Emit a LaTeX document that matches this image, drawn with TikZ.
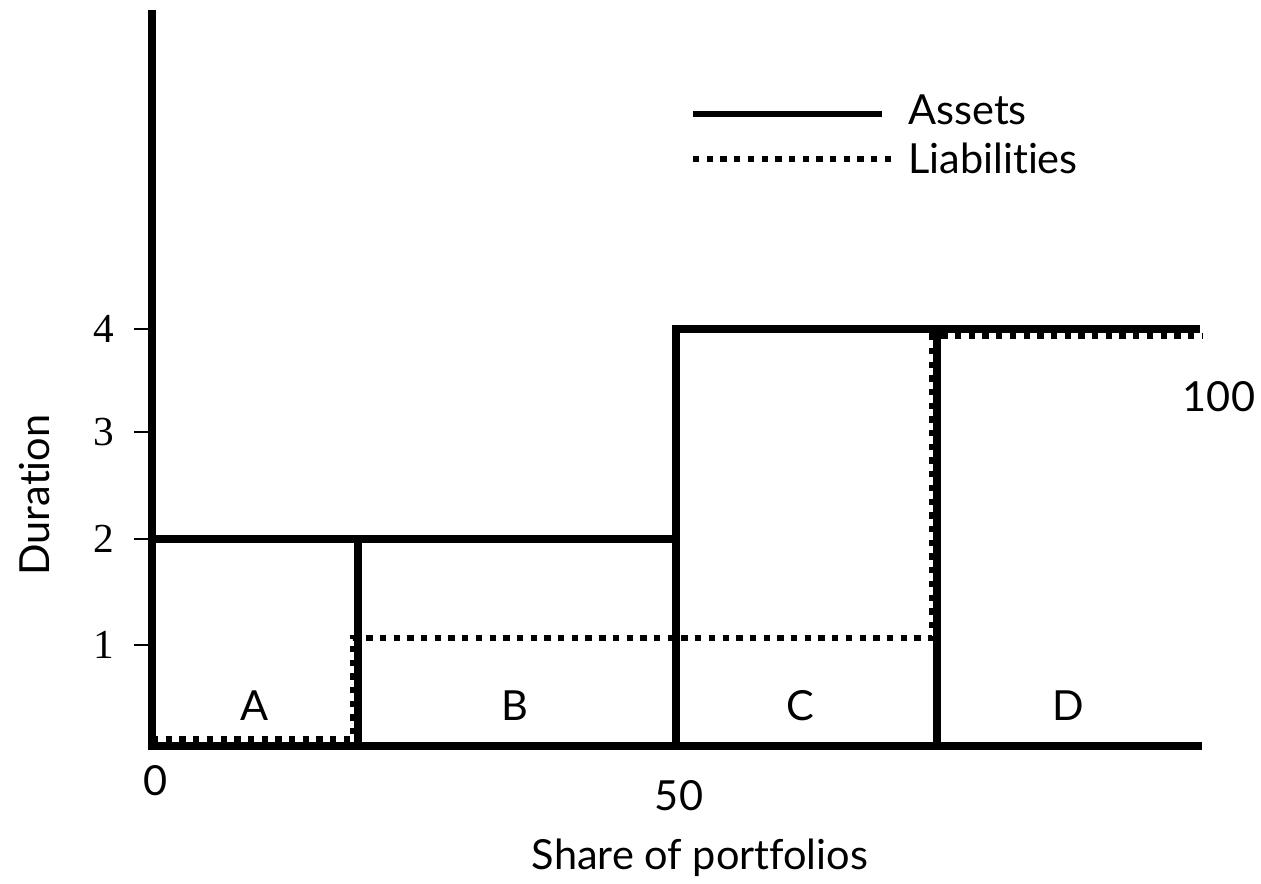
\documentclass[tikz,border=0pt]{standalone}
\usepackage{fontspec}
\setmainfont[Ligatures={NoCommon,NoRequired,NoContextual}]{Lato}
\newfontfamily\digitfont{Liberation Serif}
\begin{document}
\begin{tikzpicture}[x=0.02cm,y=-0.02cm,
  axis/.style={line width=4pt,line cap=rect},
  assetline/.style={line width=4.4pt,line cap=rect},
  liabline/.style={line width=3.4pt,dash pattern=on 3.6pt off 4.2pt},
  ytick/.style={line width=1.6pt},
  lbl/.style={font=\fontsize{23.6}{26}\selectfont,inner sep=0pt},
  ylbl/.style={font=\digitfont\fontsize{23.5}{26}\selectfont,inner sep=0pt}]
  \useasboundingbox[fill=white] (0,0) rectangle (1261,883);

  % axes
  \coordinate (ytop) at (152,14);
  \coordinate (orig) at (152,746);
  \coordinate (xend) at (1198,746);
  \draw[axis] (ytop) -- (orig) -- (xend);

  % duration ticks and labels
  \foreach \v/\yy in {4/329,3/432,2/539,1/645}{
    \coordinate (t\v) at (134,\yy);
    \coordinate (a\v) at (152,\yy);
    \draw[ytick] (t\v) -- (a\v);
    \node[ylbl] (yl\v) at (104,\yy) {\v};
  }

  % liabilities (dotted)
  \coordinate (l0) at (152,739);
  \coordinate (l1) at (353,739);
  \coordinate (l2) at (353,638);
  \coordinate (l3) at (932,638);
  \coordinate (l4) at (932,336);
  \coordinate (l5) at (1202,336);
  \draw[liabline] (l0) -- (l1) -- (l2) -- (l3) -- (l4) -- (l5);

  % assets (solid)
  \coordinate (s0) at (152,539);
  \coordinate (s1) at (358,539);
  \coordinate (s2) at (358,746);
  \coordinate (s3) at (676,539);
  \coordinate (s4) at (676,746);
  \coordinate (s5) at (676,329);
  \coordinate (s6) at (1196,329);
  \coordinate (s7) at (937,329);
  \coordinate (s8) at (937,746);
  \draw[assetline] (s0) -- (s3);
  \draw[assetline] (s1) -- (s2);
  \draw[assetline] (s4) -- (s5) -- (s6);
  \draw[assetline] (s7) -- (s8);

  % region labels
  \node[lbl] (A) at (255,706) {A};
  \node[lbl] (B) at (515,706) {B};
  \node[lbl] (C) at (800,706) {C};
  \node[lbl] (D) at (1068,706) {D};

  % x labels
  \node[lbl] (x0) at (156,781) {0};
  \node[lbl] (x50) at (679,796) {50};
  \node[lbl] (x100) at (1219,397) {100};
  \node[lbl] (xt) at (700,858) {Share of portfolios};
  \node[lbl,rotate=90] (yt) at (35,495) {Duration};

  % legend
  \coordinate (la0) at (693,114);
  \coordinate (la1) at (882,114);
  \coordinate (lb0) at (693,159);
  \coordinate (lb1) at (892,159);
  \draw[assetline,line width=3.8pt,line cap=butt] (la0) -- (la1);
  \draw[liabline] (lb0) -- (lb1);
  \node[lbl,anchor=west] (lgA) at (908,110) {Assets};
  \node[lbl,anchor=west] (lgL) at (908,158) {Liabilities};
\end{tikzpicture}
\end{document}
